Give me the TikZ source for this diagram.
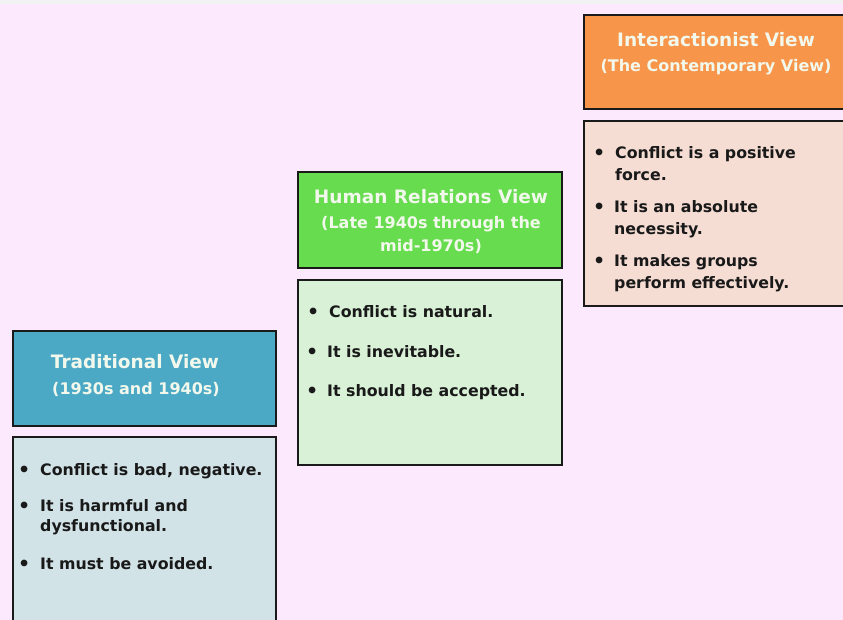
\documentclass[tikz,border=0pt]{standalone}
\usepackage{fontspec}
\setmainfont{DejaVu Sans}
\definecolor{bgpink}{HTML}{FDE9FD}
\definecolor{tradhead}{HTML}{4BA9C6}
\definecolor{tradbody}{HTML}{D2E3E8}
\definecolor{humhead}{HTML}{66DC4E}
\definecolor{humbody}{HTML}{D9F1D6}
\definecolor{inthead}{HTML}{F7954A}
\definecolor{intbody}{HTML}{F5DDD3}
\definecolor{headtxt}{HTML}{F2F8EC}
\definecolor{edge}{HTML}{1A1A1A}
\begin{document}
\begin{tikzpicture}[x=1pt,y=-1pt,
  panel/.style={draw=edge,line width=2pt},
  ttl/.style={font=\bfseries\fontsize{18.5}{22}\selectfont,text=headtxt,inner sep=0pt,anchor=base},
  sub/.style={font=\bfseries\fontsize{16}{18}\selectfont,text=headtxt,inner sep=0pt,anchor=base},
  txt/.style={font=\bfseries\fontsize{15.8}{18}\selectfont,text=black!90,inner sep=0pt,anchor=base west},
  bul/.style={font=\bfseries\fontsize{19}{18}\selectfont,text=black!90,inner sep=0pt,anchor=base west}
]
\useasboundingbox (0,0) rectangle (843,620);
\clip (0,0) rectangle (843,620);
\fill[bgpink] (0,0) rectangle (843,620);
\fill[black!5] (0,0) rectangle (843,4);

% Traditional
\draw[panel,fill=tradhead] (13,331) rectangle (276,426);
\draw[panel,fill=tradbody] (13,437) rectangle (276,630);
\node[ttl] (t0) at (135,368) {Traditional View};
\node[sub] (t1) at (136,394) {(1930s and 1940s)};
\node[bul] (tb1) at (18,476) {•};
\node[txt] (ta1) at (40,475) {Conflict is bad, negative.};
\node[bul] (tb2) at (18,512) {•};
\node[txt] (ta2) at (40,511) {It is harmful and};
\node[txt] (ta3) at (40,531) {dysfunctional.};
\node[bul] (tb3) at (18,570) {•};
\node[txt] (ta4) at (40,569) {It must be avoided.};

% Human Relations
\draw[panel,fill=humhead] (298,172) rectangle (562,268);
\draw[panel,fill=humbody] (298,280) rectangle (562,465);
\node[ttl] (h0) at (431,204) {Human Relations View};
\node[sub] (h1) at (431,229) {(Late 1940s through the};
\node[sub] (h2) at (431,252) {mid-1970s)};
\node[bul] (hb1) at (307,318) {•};
\node[txt] (ha1) at (329,317) {Conflict is natural.};
\node[bul] (hb2) at (306,358) {•};
\node[txt] (ha2) at (327,357) {It is inevitable.};
\node[bul] (hb3) at (306,397) {•};
\node[txt] (ha3) at (327,396) {It should be accepted.};

% Interactionist
\draw[panel,fill=inthead] (584,15) rectangle (850,109);
\draw[panel,fill=intbody] (584,121) rectangle (850,306);
\node[ttl] (i0) at (716,47) {Interactionist View};
\node[sub] (i1) at (716,72) {(The Contemporary View)};
\node[bul] (ib1) at (593,160) {•};
\node[txt] (ia1) at (615,159) {Conflict is a positive};
\node[txt] (ia2) at (615,181) {force.};
\node[bul] (ib2) at (593,214) {•};
\node[txt] (ia3) at (614,213) {It is an absolute};
\node[txt] (ia4) at (614,235) {necessity.};
\node[bul] (ib3) at (593,268) {•};
\node[txt] (ia5) at (614,267) {It makes groups};
\node[txt] (ia6) at (614,289) {perform effectively.};
\end{tikzpicture}
\end{document}
